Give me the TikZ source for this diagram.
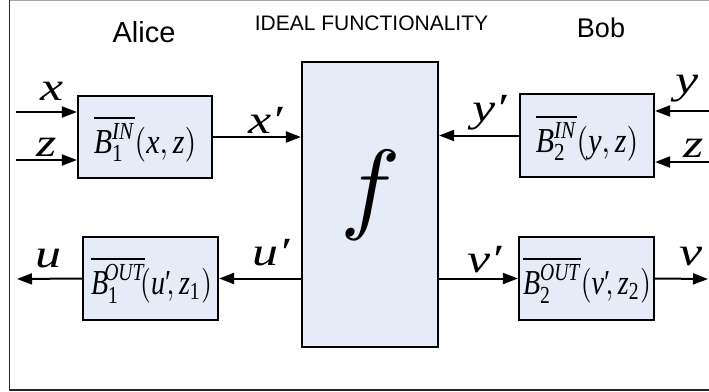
\documentclass[tikz,border=0pt]{standalone}
\usepackage{amsmath}
\usepackage[no-math]{fontspec}
\setmainfont{Liberation Serif}
\newfontfamily\arialf{Liberation Sans}
\usetikzlibrary{arrows.meta}
\definecolor{boxfill}{RGB}{230,236,247}
\newcommand{\pr}{\symbol{"2032}}
\newcommand{\wide}[1]{\scalebox{1.3}[1]{#1}}
\begin{document}
\begin{tikzpicture}[x=1pt,y=-1pt,
  blk/.style={draw=black,fill=boxfill,line width=2.2pt,minimum width=#1,inner sep=0pt},
  arr/.style={line width=2pt,-{Triangle[length=15pt,width=11pt]}},
  lbl/.style={font=\fontsize{40}{40}\selectfont\itshape,inner sep=0pt,anchor=base west},
  btxt/.style={inner sep=0pt},
  sans/.style={font=\arialf,inner sep=0pt,anchor=base}]
\useasboundingbox (0,0) rectangle (709,391);
% frame
\draw[line width=1pt,black!35] (9.5,0.5) -- (709,0.5);
\draw[line width=1.5pt,black!85] (9.5,0) -- (9.5,389.8) -- (709,389.8);
% titles
\node[sans,font=\arialf\fontsize{29}{29}\selectfont] (alice) at (144,42) {Alice};
\node[sans,font=\arialf\fontsize{21}{21}\selectfont] (ideal) at (371.5,30) {IDEAL FUNCTIONALITY};
\node[sans,font=\arialf\fontsize{27}{27}\selectfont] (bob) at (601,37) {Bob};
% blocks
\node[blk=134pt,minimum height=82pt] (b1in) at (145,137) {};
\node[blk=134pt,minimum height=83pt] (b2in) at (587,135.5) {};
\node[blk=135pt,minimum height=83pt] (b1out) at (150.5,278.5) {};
\node[blk=135pt,minimum height=83pt] (b2out) at (586.5,278.5) {};
\node[blk=136pt,minimum height=285pt] (f) at (370,204.5) {};
% block texts
\node[btxt] (t1) at (145,139)
  {\scalebox{3.0}[3.5]{$\overline{\textit{B}^{\textit{IN}}_{\textup{1}}}(\textit{x},\textit{z})$}};
\node[btxt] (t2) at (587,138)
  {\scalebox{3.0}[3.5]{$\overline{\textit{B}^{\textit{IN}}_{\textup{2}}}(\textit{y},\textit{z})$}};
\node[btxt] (t3) at (151.5,280)
  {\scalebox{2.8}[3.5]{$\overline{\textit{B}^{\!\textit{OUT}}_{\textup{1}}}\!(\textit{u}\textup{\pr}\!,\textit{z}_{\textup{1}})$}};
\node[btxt] (t4) at (587,280)
  {\scalebox{2.8}[3.5]{$\overline{\textit{B}^{\textit{OUT}}_{\textup{2}}}(\textit{v}\textup{\pr}\!,\textit{z}_{\textup{2}})$}};
\node[inner sep=0pt] (tf) at (371,195) {\scalebox{10.1}{$f$}};
% free ends
\coordinate (xin) at (16,112);
\coordinate (zin) at (16,160);
\coordinate (yin) at (709,111);
\coordinate (z2in) at (709,162);
\coordinate (uout) at (17,279);
\coordinate (vout) at (708,279);
% connectors
\draw[arr] (xin) -- (xin -| b1in.west);
\draw[arr] (zin) -- (zin -| b1in.west);
\draw[arr] (b1in.east) -- (b1in.east -| f.west);
\draw[arr] (yin) -- (yin -| b2in.east);
\draw[arr] (z2in) -- (z2in -| b2in.east);
\draw[arr] (b2in.west) -- (b2in.west -| f.east);
\draw[arr] (b1out.east -| f.west) -- (b1out.east);
\draw[arr] (b1out.west) -- (uout);
\draw[arr] (b2out.west -| f.east) -- (b2out.west);
\draw[arr] (b2out.east) -- (vout);
% labels
\node[lbl] (lx) at (40,100) {\wide{x}};
\node[lbl] (lz) at (36,156) {\wide{z}};
\node[lbl] (lxp) at (248,133) {\wide{x\pr}};
\node[lbl] (lyp) at (472,121) {\wide{y\pr}};
\node[lbl] (ly) at (675,93) {\wide{y}};
\node[lbl] (lz2) at (683,157) {\wide{z}};
\node[lbl] (lu) at (35,267) {\wide{u}};
\node[lbl] (lup) at (252,265) {\wide{u\pr}};
\node[lbl] (lvp) at (467,272) {\wide{v\pr}};
\node[lbl] (lv) at (679,265) {\wide{v}};
\end{tikzpicture}
\end{document}
